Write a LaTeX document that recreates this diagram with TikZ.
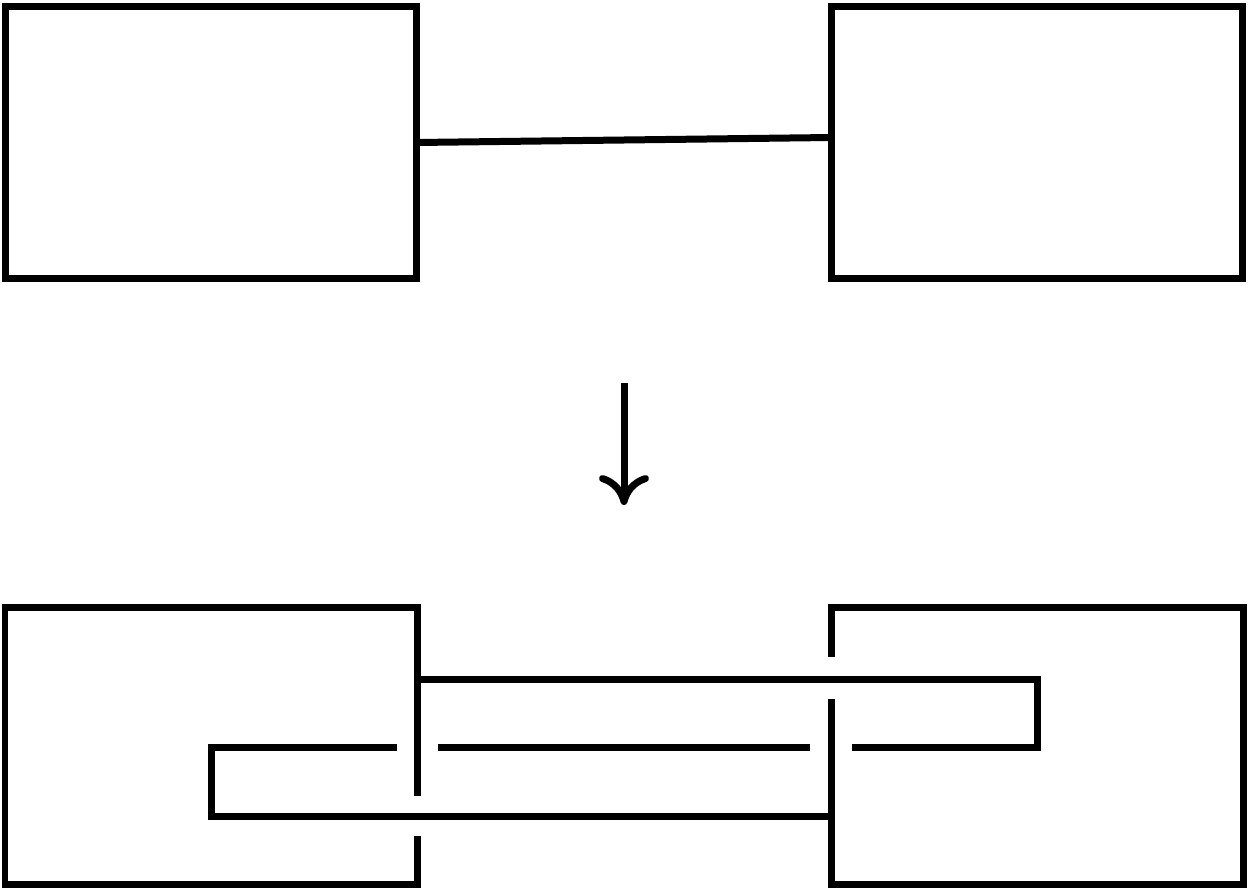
\documentclass[tikz,border=0pt]{standalone}
\usetikzlibrary{arrows.meta}

\tikzset{
  box/.style={draw, rectangle, inner sep=0pt, outer sep=0pt,
    minimum width=8.24cm, minimum height=5.46cm},
}

\begin{document}
\begin{tikzpicture}[x=0.02cm, y=-0.02cm, line width=0.14cm]
  \useasboundingbox (0,0) rectangle (1249,889);

  % before
  \node[box] (boxa) at (211,142.5) {};
  \node[box] (boxb) at (1037,142.5) {};
  \draw (boxa.east) -- ([yshift=0.1cm]boxb.west);

  \draw[-{Computer Modern Rightarrow[length=0.6cm,width=1cm]}] (624,383) -- (624,505);

  % after
  \draw (417,796) -- (417,607) -- (5,607) -- (5,884) -- (417,884) -- (417,836);
  \draw (831,657) -- (831,607) -- (1243,607) -- (1243,884) -- (831,884) -- (831,699);
  \draw (417,679) -- (1037,679) -- (1037,747) -- (852,747);
  \draw (810,747) -- (438,747);
  \draw (397,747) -- (211,747) -- (211,816) -- (831,816);

\end{tikzpicture}
\end{document}
